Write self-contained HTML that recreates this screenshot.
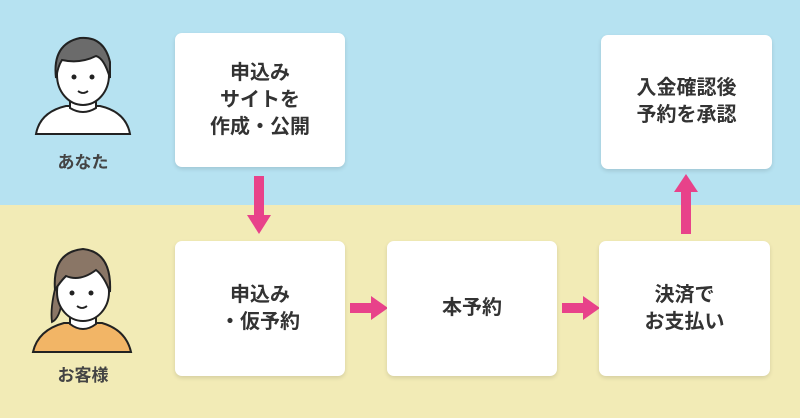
<!DOCTYPE html>
<html><head><meta charset="utf-8"><style>
body{margin:0;width:800px;height:418px;overflow:hidden;position:relative;font-family:"Liberation Sans","Noto Sans CJK JP",sans-serif;}
.top{position:absolute;left:0;top:0;width:800px;height:205px;background:#b6e2f1;}
.bot{position:absolute;left:0;top:205px;width:800px;height:213px;background:#f2ebb6;}
.box{position:absolute;background:#fff;border-radius:7px;box-shadow:0 2px 4px rgba(0,0,0,.12);display:flex;align-items:center;justify-content:center;text-align:center;font-size:20px;font-weight:bold;color:#333;line-height:27px;}
.lbl{position:absolute;width:100px;text-align:center;font-size:17px;font-weight:bold;color:#444;}
svg{position:absolute;left:0;top:0;}
</style></head><body>
<div class="top"></div><div class="bot"></div>
<svg width="800" height="418">
<!-- man -->
<path d="M36 134 Q40 112 66 106 L100 106 Q126 112 130 134 Z" fill="#fff" stroke="#222" stroke-width="2"/>
<path d="M70 96 L70 108 Q83 116 96 108 L96 96 Z" fill="#fff" stroke="#222" stroke-width="2"/>
<ellipse cx="83" cy="75" rx="26" ry="30" fill="#fff" stroke="#222" stroke-width="2"/>
<path d="M56 78 Q52 44 80 38 Q104 36 110 62 L110 78 Q104 58 96 56 Q80 64 62 60 Q58 66 56 78Z" fill="#6b6b6b" stroke="#222" stroke-width="2"/>
<circle cx="74" cy="77" r="2.5" fill="#222"/><circle cx="92" cy="77" r="2.5" fill="#222"/>
<path d="M78 91 Q83 95 88 91" fill="none" stroke="#222" stroke-width="1.8"/>
<!-- woman -->
<path d="M33 352 Q38 330 64 323 L102 323 Q126 330 131 352 Z" fill="#f2b566" stroke="#222" stroke-width="2"/>
<path d="M70 312 L70 324 Q83 334 96 324 L96 312 Z" fill="#fff" stroke="#222" stroke-width="2"/>
<path d="M56 285 Q50 308 52 322 Q60 318 62 300Z" fill="#8a7666" stroke="#222" stroke-width="1.8"/>
<ellipse cx="83" cy="292" rx="26" ry="29" fill="#fff" stroke="#222" stroke-width="2"/>
<path d="M55 290 Q52 252 83 249 Q112 252 110 292 Q104 276 96 270 Q80 282 66 276 Q60 282 55 290Z" fill="#8a7666" stroke="#222" stroke-width="2"/>
<circle cx="72" cy="293" r="2.5" fill="#222"/><circle cx="91" cy="293" r="2.5" fill="#222"/>
<path d="M77 306 Q82 310 87 306" fill="none" stroke="#222" stroke-width="1.8"/>
<!-- arrows -->
<g fill="#e8428a">
<rect x="254" y="176" width="10" height="40"/><polygon points="247,215 271,215 259,234"/>
<rect x="350" y="303" width="22" height="10"/><polygon points="371,296 371,320 388,308"/>
<rect x="562" y="303" width="22" height="10"/><polygon points="583,296 583,320 600,308"/>
<rect x="681" y="190" width="10" height="44"/><polygon points="674,192 698,192 686,174"/>
</g>
</svg>
<div class="lbl" style="left:33px;top:148px">あなた</div>
<div class="lbl" style="left:33px;top:361px">お客様</div>
<div class="box" style="left:175px;top:33px;width:170px;height:134px">申込み<br>サイトを<br>作成・公開</div>
<div class="box" style="left:601px;top:35px;width:171px;height:134px">入金確認後<br>予約を承認</div>
<div class="box" style="left:175px;top:241px;width:170px;height:135px">申込み<br>・仮予約</div>
<div class="box" style="left:387px;top:241px;width:170px;height:135px">本予約</div>
<div class="box" style="left:599px;top:241px;width:171px;height:135px">決済で<br>お支払い</div>
</body></html>
